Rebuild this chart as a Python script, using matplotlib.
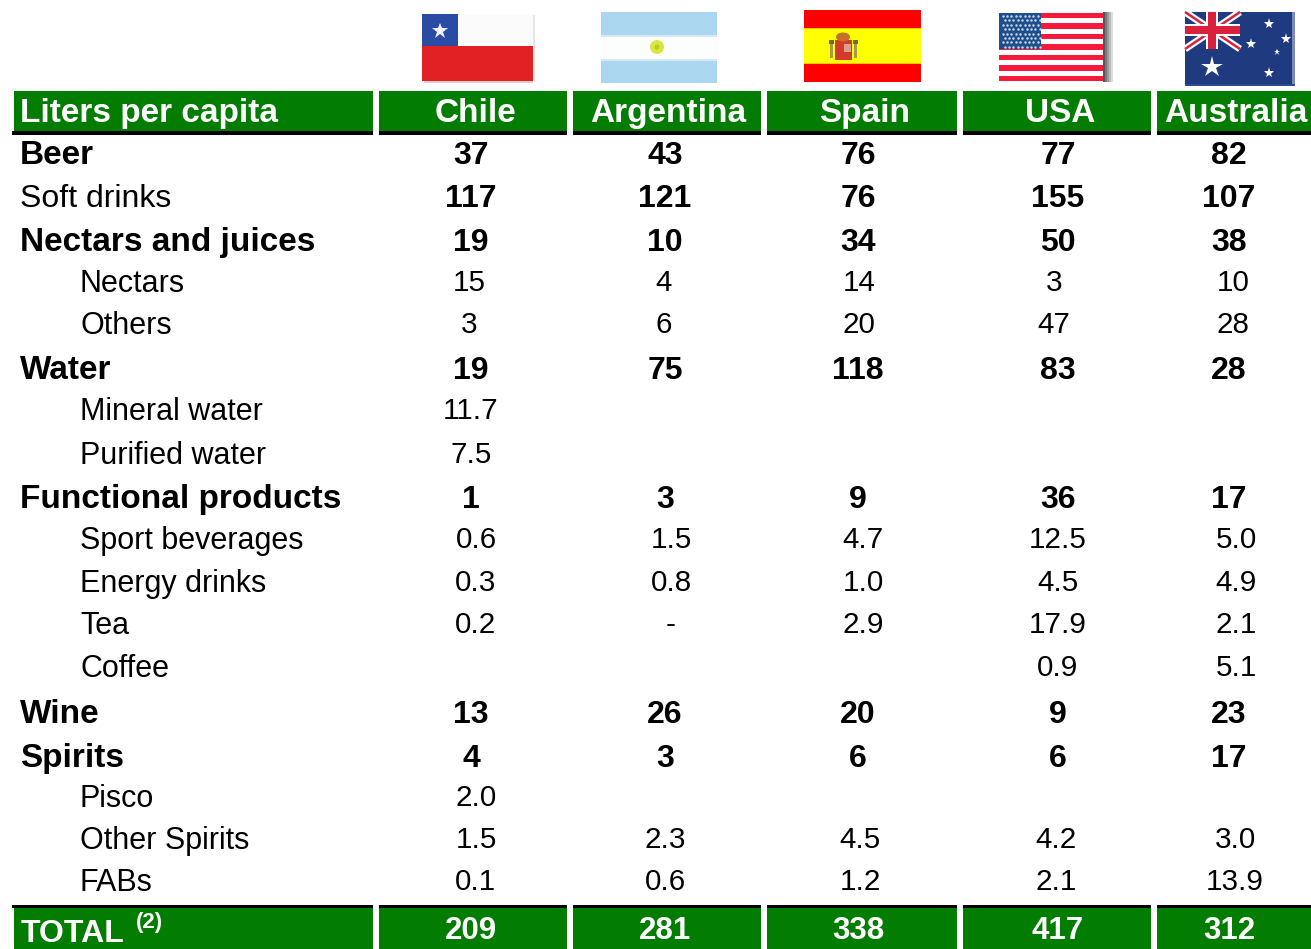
import matplotlib
matplotlib.use("Agg")
import matplotlib.pyplot as plt
from matplotlib.patches import Rectangle, Polygon, Circle, Ellipse

plt.rcParams['font.family'] = ['Liberation Sans', 'DejaVu Sans']

title_label = "Liters per capita"
countries = ["Chile", "Argentina", "Spain", "USA", "Australia"]
row_labels = ["Beer", "Soft drinks", "Nectars and juices", "Nectars", "Others", "Water",
              "Mineral water", "Purified water", "Functional products", "Sport beverages",
              "Energy drinks", "Tea", "Coffee", "Wine", "Spirits", "Pisco", "Other Spirits", "FABs"]
row_kinds = ["head", "mixed", "head", "sub", "sub", "head", "sub", "sub", "head", "sub",
             "sub", "sub", "sub", "head", "head", "sub", "sub", "sub"]
chile = ["37", "117", "19", "15", "3", "19", "11.7", "7.5", "1", "0.6", "0.3", "0.2", "", "13", "4", "2.0", "1.5", "0.1"]
argentina = ["43", "121", "10", "4", "6", "75", "", "", "3", "1.5", "0.8", "-", "", "26", "3", "", "2.3", "0.6"]
spain = ["76", "76", "34", "14", "20", "118", "", "", "9", "4.7", "1.0", "2.9", "", "20", "6", "", "4.5", "1.2"]
usa = ["77", "155", "50", "3", "47", "83", "", "", "36", "12.5", "4.5", "17.9", "0.9", "9", "6", "", "4.2", "2.1"]
australia = ["82", "107", "38", "10", "28", "28", "", "", "17", "5.0", "4.9", "2.1", "5.1", "23", "17", "", "3.0", "13.9"]
totals = ["209", "281", "338", "417", "312"]
total_label = "TOTAL"
total_note = "(2)"

columns = [chile, argentina, spain, usa, australia]
row_y = [153, 196, 240, 281, 323, 368, 409, 453, 497, 538, 581, 623, 666, 712, 756, 796, 838, 880]
col_spans = [(379, 567), (573, 761), (767, 957), (963, 1151), (1157, 1311)]
header_x = [475, 668, 865, 1060, 1236]
bold_x = [471, 665, 858, 1058, 1229]
sub_x_nectars = [469, 664, 859, 1054, 1233]
sub_x_water = [471, 666, 860, 1056, 1233]
sub_x_func = [476, 671, 863, 1058, 1236]
sub_x_spirits = [476, 665, 860, 1056, 1235]

def sub_positions(r):
    if r < 5:
        return sub_x_nectars
    if r < 8:
        return sub_x_water
    if r < 13:
        return sub_x_func
    return sub_x_spirits

GREEN = "#027D02"
fig = plt.figure(figsize=(13.11, 9.49), dpi=100)
ax = fig.add_axes([0, 0, 1, 1])
ax.set_xlim(0, 1311)
ax.set_ylim(949, 0)
ax.axis("off")

NUM_BOLD = 23
NUM_PLAIN = 21.3
LAB_BOLD = 24
LAB_PLAIN = 22

def rect(x0, y0, x1, y1, c, z=1, **kw):
    ax.add_patch(Rectangle((x0, y0), x1 - x0, y1 - y0, fc=c, ec="none", zorder=z, **kw))

# Bands
spans = [(14, 373)] + col_spans
for i, (a, b) in enumerate(spans):
    rect(a, 91, b, 131, GREEN)
    rect(a - 2 if i == 0 else a, 131, b, 135, "black")
    rect(a, 908, b, 949, GREEN)
    rect(a - 2 if i == 0 else a, 905, b, 908, "black")

ax.text(20, 122, title_label, color="white", fontsize=LAB_BOLD, fontweight="bold", va="baseline")
for x, c in zip(header_x, countries):
    ax.text(x, 122, c, color="white", fontsize=LAB_BOLD, fontweight="bold", ha="center", va="baseline")

# Rows
for r, (lab, kind, y) in enumerate(zip(row_labels, row_kinds, row_y)):
    lx = 80 if kind == "sub" else 20
    weight = "bold" if kind == "head" else "normal"
    size = {"head": LAB_BOLD, "mixed": 23, "sub": LAB_PLAIN}[kind]
    ax.text(lx, y + 11, lab, fontsize=size, fontweight=weight, va="baseline", color="black")
    xs = sub_positions(r)
    for c, col in enumerate(columns):
        if kind == "sub":
            ax.text(xs[c], y + 10, col[r], fontsize=NUM_PLAIN, ha="center", va="baseline", color="black")
        else:
            ax.text(bold_x[c], y + 11, col[r], fontsize=NUM_BOLD, fontweight="bold", ha="center", va="baseline", color="black")

# Total
ax.text(21, 942, total_label, color="white", fontsize=23, fontweight="bold", va="baseline")
ax.text(136, 928, total_note, color="white", fontsize=16, fontweight="bold", va="baseline")
for x, t in zip(bold_x, totals):
    ax.text(x, 939, t, color="white", fontsize=22.5, fontweight="bold", ha="center", va="baseline")

def star(x, y, s, c="white", z=7):
    ax.plot([x], [y], marker="*", ms=s, mfc=c, mec=c, mew=0, ls="none", zorder=z)

# Chile flag
rect(422, 14, 533, 46, "#FBFBFB", 2)
rect(422, 46, 533, 81, "#E22222", 2)
rect(422, 14, 458, 46, "#2A4CA4", 3)
rect(533, 15, 535, 81, "#E6E6E6", 1)
rect(424, 81, 533, 83, "#EBC9C9", 1)
star(440, 31, 12, "#F0F4FF")

# Argentina flag
rect(601, 12, 717, 36, "#ABD6EF", 2)
rect(601, 36, 717, 60, "#FCFDFD", 2)
rect(601, 60, 717, 83, "#ABD6EF", 2)
rect(601, 35, 717, 37, "#D6EAF6", 3)
rect(601, 59, 717, 61, "#D6EAF6", 3)
ax.add_patch(Circle((657, 47), 7, fc="#D9E63A", ec="none", zorder=3))
ax.add_patch(Circle((657, 47), 2.5, fc="#B9C83A", ec="none", zorder=4))

# Spain flag
rect(804, 10, 921, 82, "#FF0000", 2)
rect(804, 28, 921, 64, "#FFFF00", 2)
rect(804, 28, 921, 29, "#FFC000", 3)
rect(804, 63, 921, 64, "#FFC000", 3)
rect(835, 40, 852, 60, "#D23B2B", 3)
rect(844, 44, 851, 52, "#D9A090", 4)
ax.add_patch(Ellipse((843, 37), 14, 9, fc="#C8702A", ec="none", zorder=4))
rect(829, 40, 834, 44, "#6E6A3A", 3)
rect(830, 44, 833, 58, "#A89A48", 3)
rect(853, 40, 858, 44, "#6E6A3A", 3)
rect(854, 44, 857, 58, "#A89A48", 3)

# USA flag
for k, g in enumerate(["#555555", "#777777", "#999999", "#BBBBBB", "#DDDDDD"]):
    rect(1103 + 2 * k, 12, 1105 + 2 * k, 82, g, 1)
rect(999, 13, 1103, 81, "#FFFFFF", 2)
for k in range(7):
    y0 = 13 + k * 2 * 68 / 13
    rect(999, y0, 1103, y0 + 68 / 13, "#F5193C", 3)
rect(999, 13, 1041, 49, "#1F4E8C", 4)
for j in range(8):
    for i in range(9):
        ax.plot([1002.5 + i * 4.4 + (j % 2) * 2.0], [16 + j * 4.4], marker="o", ms=1.8,
                mfc="#C8D4E8", mec="none", ls="none", zorder=5)

# Australia flag
rect(1185, 12, 1295, 86, "#203A80", 2)
rect(1292, 12, 1295, 86, "#7C8AB8", 3)
rect(1185, 84, 1295, 86, "#2E4A90", 3)
ax.plot([1185, 1240], [12, 49], color="white", lw=5, zorder=3, solid_capstyle="butt")
ax.plot([1185, 1240], [49, 12], color="white", lw=5, zorder=3, solid_capstyle="butt")
ax.plot([1185, 1240], [12, 49], color="#D9203C", lw=1.8, zorder=4, solid_capstyle="butt")
ax.plot([1185, 1240], [49, 12], color="#D9203C", lw=1.8, zorder=4, solid_capstyle="butt")
rect(1185, 24, 1240, 36, "white", 5)
rect(1206, 12, 1218, 49, "white", 5)
rect(1185, 26, 1240, 34, "#D9203C", 6)
rect(1208, 12, 1216, 49, "#D9203C", 6)
star(1212, 67, 16)
star(1269, 24, 8)
star(1286, 39, 8)
star(1251, 44, 8)
star(1277, 52, 5)
star(1269, 73, 8)

fig.savefig("out.png", dpi=100)
